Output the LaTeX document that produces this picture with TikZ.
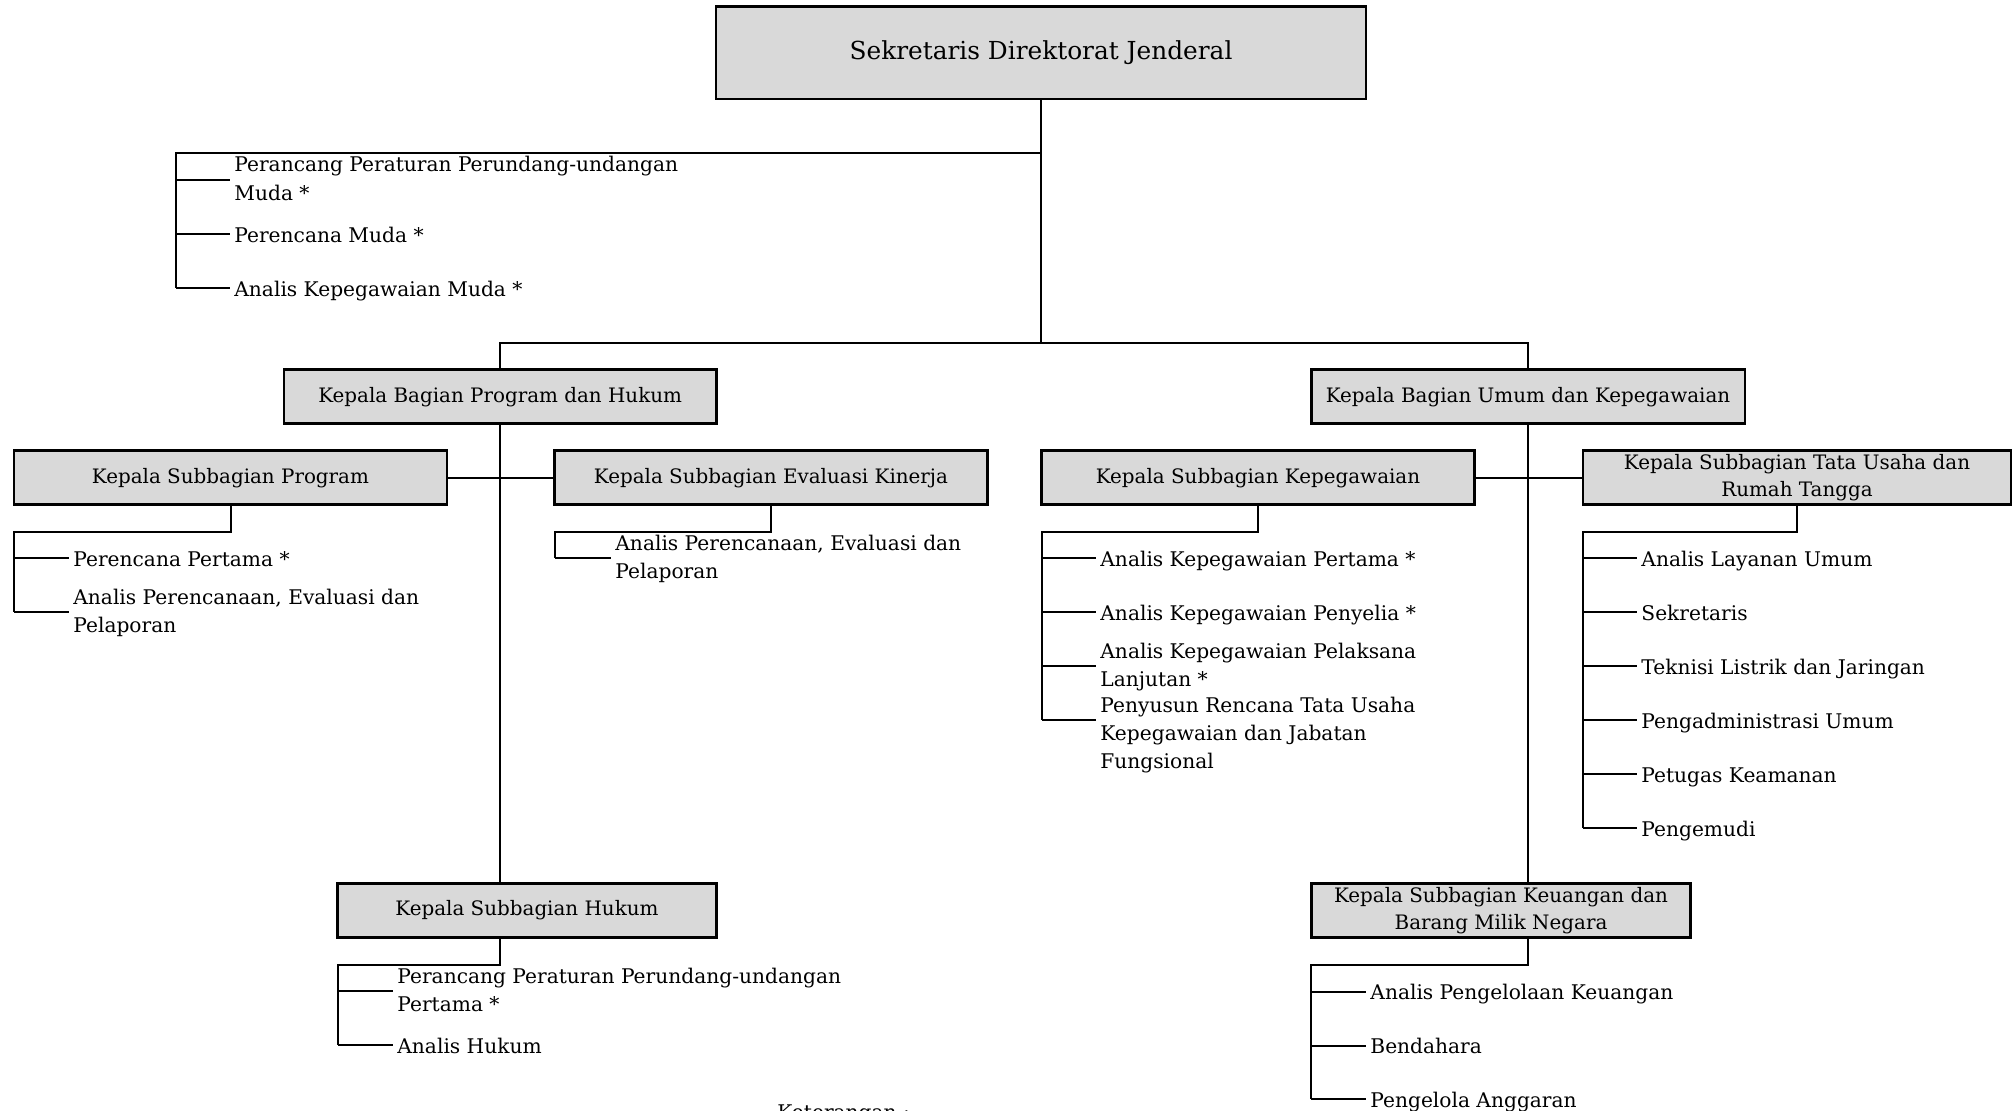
\documentclass[tikz,border=0pt]{standalone}
\usepackage{fontspec}
\setmainfont{DejaVu Serif}
\definecolor{boxgray}{HTML}{D9D9D9}
\tikzset{
  orgbox/.style={draw=black, line width=1.3pt, fill=boxgray, inner sep=0pt, align=center, font=\fontsize{9.95}{13.6}\selectfont},
  topbox/.style={orgbox, font=\fontsize{12.4}{15}\selectfont},
  item/.style={anchor=west, inner xsep=2pt, inner ysep=0pt, yshift=-1.3pt, align=left, font=\fontsize{10.1}{14.1}\selectfont, execute at begin node=\strut, execute at end node=\strut},
  link/.style={line width=1pt, line join=miter},
}
\begin{document}
\begin{tikzpicture}[x=0.5pt,y=-0.5pt]
\path[use as bounding box] (0,0) rectangle (2013,1111);
\fill[white] (0,0) rectangle (2013,1111);

% boxes
\node[topbox, minimum width=325pt, minimum height=46.3pt] (sek) at (1041,52.7) {Sekretaris Direktorat Jenderal};
\node[orgbox, minimum width=216.4pt, minimum height=27pt] (kbph) at (500.2,396.7) {Kepala Bagian Program dan Hukum};
\node[orgbox, minimum width=216.8pt, minimum height=27pt] (kbuk) at (1528,396.7) {Kepala Bagian Umum dan Kepegawaian};
\node[orgbox, minimum width=216.4pt, minimum height=27pt] (ksp) at (230.5,477.7) {Kepala Subbagian Program};
\node[orgbox, minimum width=216.4pt, minimum height=27pt] (ksek) at (771,477.7) {Kepala Subbagian Evaluasi Kinerja};
\node[orgbox, minimum width=216.4pt, minimum height=27pt] (kskep) at (1258,477.7) {Kepala Subbagian Kepegawaian};
\node[orgbox, minimum width=214pt, minimum height=27pt] (kstu) at (1797,477.7) {Kepala Subbagian Tata Usaha dan\\Rumah Tangga};
\node[orgbox, minimum width=189.4pt, minimum height=27pt] (ksh) at (527,910.5) {Kepala Subbagian Hukum};
\node[orgbox, minimum width=189.6pt, minimum height=27pt] (kskbmn) at (1501,910.5) {Kepala Subbagian Keuangan dan\\Barang Milik Negara};

% main connectors
\coordinate (hb) at (1041,342.8);
\coordinate (st) at (1041,152.8);
\coordinate (sa) at (176,152.8);
\coordinate (sb) at (176,288);
\draw[link] (sek.south) -- (hb);
\draw[link] (st) -- (sa) -- (sb);
\draw[link] (kbph.north) -- (kbph.north |- hb) -- (kbuk.north |- hb) -- (kbuk.north);
\draw[link] (kbph.south) -- (kbph.south |- ksh.north);
\draw[link] (ksp.east) -- (ksek.west);
\draw[link] (kbuk.south) -- (kbuk.south |- kskbmn.north);
\draw[link] (kskep.east) -- (kstu.west);

% staff of Sekretaris
\coordinate (s1) at (176,180);
\coordinate (s2) at (176,234);
\coordinate (s3) at (176,288);
\node[item] (st1) at (230,180) {Perancang Peraturan Perundang-undangan\\Muda *};
\node[item] (st2) at (230,234) {Perencana Muda *};
\node[item] (st3) at (230,288) {Analis Kepegawaian Muda *};
\foreach \c/\n in {s1/st1,s2/st2,s3/st3} \draw[link] (\c) -- (\c -| \n.west);

% Subbagian Program
\coordinate (p0) at (14.1,531.7);
\coordinate (p1) at (14.1,558.5);
\coordinate (p2) at (14.1,612.4);
\draw[link] (ksp.south) |- (p0) -- (p2);
\node[item] (pt1) at (69,558.5) {Perencana Pertama *};
\node[item] (pt2) at (69,612.4) {Analis Perencanaan, Evaluasi dan\\Pelaporan};
\foreach \c/\n in {p1/pt1,p2/pt2} \draw[link] (\c) -- (\c -| \n.west);

% Subbagian Evaluasi Kinerja
\coordinate (e0) at (554.6,531.7);
\coordinate (e1) at (554.6,558.5);
\draw[link] (ksek.south) |- (e0) -- (e1);
\node[item] (et1) at (611,558.5) {Analis Perencanaan, Evaluasi dan\\Pelaporan};
\draw[link] (e1) -- (e1 -| et1.west);

% Subbagian Kepegawaian
\coordinate (k0) at (1042,531.7);
\coordinate (k1) at (1042,558.5);
\coordinate (k2) at (1042,612.4);
\coordinate (k3) at (1042,666.3);
\coordinate (k4) at (1042,720.2);
\draw[link] (kskep.south) |- (k0) -- (k4);
\node[item] (kt1) at (1096,558.5) {Analis Kepegawaian Pertama *};
\node[item] (kt2) at (1096,612.4) {Analis Kepegawaian Penyelia *};
\node[item] (kt3) at (1096,666.3) {Analis Kepegawaian Pelaksana\\Lanjutan *};
\node[item] (kt4) at (1096,734.2) {Penyusun Rencana Tata Usaha\\Kepegawaian dan Jabatan\\Fungsional};
\foreach \c/\n in {k1/kt1,k2/kt2,k3/kt3,k4/kt4} \draw[link] (\c) -- (\c -| \n.west);

% Subbagian Tata Usaha dan Rumah Tangga
\coordinate (u0) at (1583,531.7);
\coordinate (u1) at (1583,558.5);
\coordinate (u2) at (1583,612.4);
\coordinate (u3) at (1583,666.3);
\coordinate (u4) at (1583,720.2);
\coordinate (u5) at (1583,774.1);
\coordinate (u6) at (1583,828.0);
\draw[link] (kstu.south) |- (u0) -- (u6);
\node[item] (ut1) at (1637,558.5) {Analis Layanan Umum};
\node[item] (ut2) at (1637,612.4) {Sekretaris};
\node[item] (ut3) at (1637,666.3) {Teknisi Listrik dan Jaringan};
\node[item] (ut4) at (1637,720.2) {Pengadministrasi Umum};
\node[item] (ut5) at (1637,774.1) {Petugas Keamanan};
\node[item] (ut6) at (1637,828.0) {Pengemudi};
\foreach \c/\n in {u1/ut1,u2/ut2,u3/ut3,u4/ut4,u5/ut5,u6/ut6} \draw[link] (\c) -- (\c -| \n.west);

% Subbagian Hukum
\coordinate (h0) at (337.6,964.6);
\coordinate (h1) at (337.6,991.4);
\coordinate (h2) at (337.6,1045.3);
\draw[link] (kbph.south |- ksh.south) |- (h0) -- (h2);
\node[item] (ht1) at (393,991.4) {Perancang Peraturan Perundang-undangan\\Pertama *};
\node[item] (ht2) at (393,1045.3) {Analis Hukum};
\foreach \c/\n in {h1/ht1,h2/ht2} \draw[link] (\c) -- (\c -| \n.west);

% Subbagian Keuangan dan BMN
\coordinate (m0) at (1311.4,964.6);
\coordinate (m1) at (1311.4,991.7);
\coordinate (m2) at (1311.4,1045.5);
\coordinate (m3) at (1311.4,1099.2);
\draw[link] (kbuk.south |- kskbmn.south) |- (m0) -- (m3);
\node[item] (mt1) at (1366,991.7) {Analis Pengelolaan Keuangan};
\node[item] (mt2) at (1366,1045.5) {Bendahara};
\node[item] (mt3) at (1366,1099.2) {Pengelola Anggaran};
\foreach \c/\n in {m1/mt1,m2/mt2,m3/mt3} \draw[link] (\c) -- (\c -| \n.west);

% legend heading (cut by the page edge, as in the reference)
\node[anchor=north west, inner sep=0pt, font=\fontsize{10.1}{13.8}\selectfont] (ket) at (777,1104) {Keterangan :};
\end{tikzpicture}
\end{document}
